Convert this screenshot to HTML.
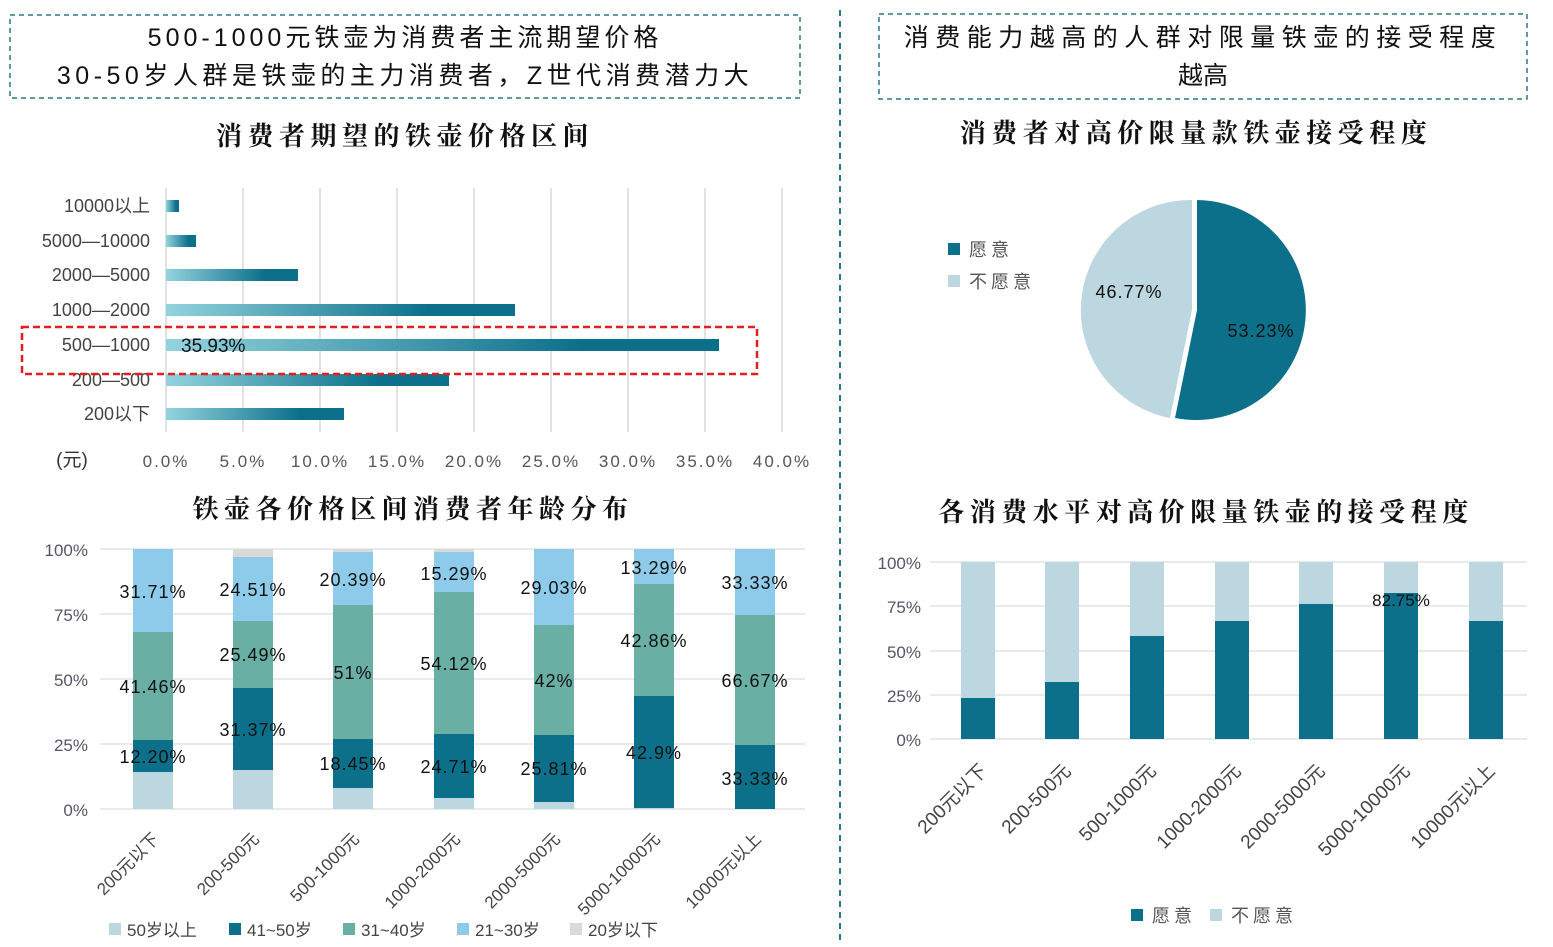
<!DOCTYPE html>
<html><head><meta charset="utf-8"><style>
body{margin:0;background:#fff;}
svg{display:block;}
.s{font-family:"Liberation Sans","Noto Sans CJK SC",sans-serif;}
.t{font-family:"Liberation Serif","Noto Serif CJK SC",serif;font-weight:bold;}
</style></head><body>
<svg width="1553" height="947" viewBox="0 0 1553 947" xmlns="http://www.w3.org/2000/svg" class="s">
<defs>
<linearGradient id="g" x1="0" x2="1" y1="0" y2="0">
<stop offset="0" stop-color="#93d3de"/><stop offset="0.75" stop-color="#0c708b"/><stop offset="1" stop-color="#0c708b"/>
</linearGradient>
</defs>
<rect x="10" y="15" width="790" height="83" fill="none" stroke="#2a7a88" stroke-width="1.5" stroke-dasharray="5,4"/>
<text x="405" y="46" font-size="25" text-anchor="middle" fill="#111" letter-spacing="4">500-1000元铁壶为消费者主流期望价格</text>
<text x="405" y="84" font-size="25" text-anchor="middle" fill="#111" letter-spacing="4.5">30-50岁人群是铁壶的主力消费者，Z世代消费潜力大</text>
<rect x="879" y="14" width="648" height="85" fill="none" stroke="#2a7a88" stroke-width="1.5" stroke-dasharray="5,4"/>
<text x="1203" y="46" font-size="25" text-anchor="middle" fill="#111" letter-spacing="6.5">消费能力越高的人群对限量铁壶的接受程度</text>
<text x="1203" y="84" font-size="25" text-anchor="middle" fill="#111">越高</text>
<line x1="840" y1="10" x2="840" y2="940" stroke="#2a7a88" stroke-width="2" stroke-dasharray="6,5"/>

<text x="405" y="145" class="t" font-size="26" text-anchor="middle" fill="#111" letter-spacing="5.5">消费者期望的铁壶价格区间</text>
<g stroke="#d9d9d9" stroke-width="1.5">
<line x1="166" y1="188" x2="166" y2="432"/><line x1="243" y1="188" x2="243" y2="432"/><line x1="320" y1="188" x2="320" y2="432"/><line x1="397" y1="188" x2="397" y2="432"/><line x1="474" y1="188" x2="474" y2="432"/><line x1="551" y1="188" x2="551" y2="432"/><line x1="628" y1="188" x2="628" y2="432"/><line x1="705" y1="188" x2="705" y2="432"/><line x1="782" y1="188" x2="782" y2="432"/>
</g>
<g fill="url(#g)">
<rect x="166" y="200" width="13" height="12"/>
<rect x="166" y="235" width="30" height="12"/>
<rect x="166" y="269" width="132" height="12"/>
<rect x="166" y="304" width="349" height="12"/>
<rect x="166" y="339" width="553" height="12"/>
<rect x="166" y="374" width="283" height="12"/>
<rect x="166" y="408" width="178" height="12"/>
</g>
<g font-size="18" fill="#444" text-anchor="end">
<text x="150" y="212">10000以上</text><text x="150" y="247">5000—10000</text><text x="150" y="281">2000—5000</text><text x="150" y="316">1000—2000</text><text x="150" y="351">500—1000</text><text x="150" y="386">200—500</text><text x="150" y="420">200以下</text>
</g>
<text x="181" y="352" font-size="19" fill="#111">35.93%</text>
<rect x="22" y="327" width="735" height="47" fill="none" stroke="#e02020" stroke-width="2.5" stroke-dasharray="7,4"/>
<g font-size="17" fill="#555" text-anchor="middle" letter-spacing="2">
<text x="166" y="467">0.0%</text><text x="243" y="467">5.0%</text><text x="320" y="467">10.0%</text><text x="397" y="467">15.0%</text><text x="474" y="467">20.0%</text><text x="551" y="467">25.0%</text><text x="628" y="467">30.0%</text><text x="705" y="467">35.0%</text><text x="782" y="467">40.0%</text>
</g>
<text x="72" y="466" font-size="19" fill="#333" text-anchor="middle">(元)</text>

<text x="413" y="518" class="t" font-size="26" text-anchor="middle" fill="#111" letter-spacing="5.5">铁壶各价格区间消费者年龄分布</text>
<g stroke="#e0e3e6" stroke-width="1.5">
<line x1="100" y1="549" x2="805" y2="549"/><line x1="100" y1="614" x2="805" y2="614"/><line x1="100" y1="679" x2="805" y2="679"/><line x1="100" y1="744" x2="805" y2="744"/><line x1="100" y1="809" x2="805" y2="809"/>
</g>
<g font-size="17" fill="#556" text-anchor="end">
<text x="88" y="556">100%</text><text x="88" y="621">75%</text><text x="88" y="686">50%</text><text x="88" y="751">25%</text><text x="88" y="816">0%</text>
</g>
<g>
<rect x="133" y="772" width="40" height="37" fill="#bdd7e0"/><rect x="133" y="740" width="40" height="32" fill="#0c708b"/><rect x="133" y="632" width="40" height="108" fill="#6aafa3"/><rect x="133" y="549" width="40" height="83" fill="#8ecae9"/>
<rect x="233" y="770" width="40" height="39" fill="#bdd7e0"/><rect x="233" y="688" width="40" height="82" fill="#0c708b"/><rect x="233" y="621" width="40" height="67" fill="#6aafa3"/><rect x="233" y="557" width="40" height="64" fill="#8ecae9"/><rect x="233" y="549" width="40" height="8" fill="#d9d9d9"/>
<rect x="333" y="788" width="40" height="21" fill="#bdd7e0"/><rect x="333" y="739" width="40" height="49" fill="#0c708b"/><rect x="333" y="605" width="40" height="134" fill="#6aafa3"/><rect x="333" y="552" width="40" height="53" fill="#8ecae9"/><rect x="333" y="549" width="40" height="3" fill="#d9d9d9"/>
<rect x="434" y="798" width="40" height="11" fill="#bdd7e0"/><rect x="434" y="734" width="40" height="64" fill="#0c708b"/><rect x="434" y="592" width="40" height="142" fill="#6aafa3"/><rect x="434" y="552" width="40" height="40" fill="#8ecae9"/><rect x="434" y="549" width="40" height="3" fill="#d9d9d9"/>
<rect x="534" y="802" width="40" height="7" fill="#bdd7e0"/><rect x="534" y="735" width="40" height="67" fill="#0c708b"/><rect x="534" y="625" width="40" height="110" fill="#6aafa3"/><rect x="534" y="549" width="40" height="76" fill="#8ecae9"/>
<rect x="634" y="808" width="40" height="1" fill="#bdd7e0"/><rect x="634" y="696" width="40" height="112" fill="#0c708b"/><rect x="634" y="584" width="40" height="112" fill="#6aafa3"/><rect x="634" y="549" width="40" height="35" fill="#8ecae9"/>
<rect x="735" y="745" width="40" height="64" fill="#0c708b"/><rect x="735" y="615" width="40" height="130" fill="#6aafa3"/><rect x="735" y="549" width="40" height="66" fill="#8ecae9"/>
</g>
<g font-size="18" fill="#111" text-anchor="middle" letter-spacing="1">
<text x="153" y="598">31.71%</text><text x="153" y="693">41.46%</text><text x="153" y="763">12.20%</text>
<text x="253" y="596">24.51%</text><text x="253" y="661">25.49%</text><text x="253" y="736">31.37%</text>
<text x="353" y="586">20.39%</text><text x="353" y="679">51%</text><text x="353" y="770">18.45%</text>
<text x="454" y="580">15.29%</text><text x="454" y="670">54.12%</text><text x="454" y="773">24.71%</text>
<text x="554" y="594">29.03%</text><text x="554" y="687">42%</text><text x="554" y="775">25.81%</text>
<text x="654" y="574">13.29%</text><text x="654" y="647">42.86%</text><text x="654" y="759">42.9%</text>
<text x="755" y="589">33.33%</text><text x="755" y="687">66.67%</text><text x="755" y="785">33.33%</text>
</g>
<g font-size="17" fill="#444" text-anchor="end">
<text transform="translate(160,840) rotate(-45)">200元以下</text>
<text transform="translate(260,840) rotate(-45)">200-500元</text>
<text transform="translate(360,840) rotate(-45)">500-1000元</text>
<text transform="translate(461,840) rotate(-45)">1000-2000元</text>
<text transform="translate(561,840) rotate(-45)">2000-5000元</text>
<text transform="translate(661,840) rotate(-45)">5000-10000元</text>
<text transform="translate(762,840) rotate(-45)">10000元以上</text>
</g>
<g font-size="17" fill="#444">
<rect x="109" y="923" width="12" height="12" fill="#bdd7e0"/><text x="127" y="936">50岁以上</text>
<rect x="229" y="923" width="12" height="12" fill="#0c708b"/><text x="247" y="936">41~50岁</text>
<rect x="343" y="923" width="12" height="12" fill="#6aafa3"/><text x="361" y="936">31~40岁</text>
<rect x="457" y="923" width="12" height="12" fill="#8ecae9"/><text x="475" y="936">21~30岁</text>
<rect x="570" y="923" width="12" height="12" fill="#d9d9d9"/><text x="588" y="936">20岁以下</text>
</g>

<text x="1196" y="142" class="t" font-size="26" text-anchor="middle" fill="#111" letter-spacing="5.5">消费者对高价限量款铁壶接受程度</text>
<rect x="948" y="243" width="12" height="12" fill="#0c708b"/><text x="969" y="256" font-size="18" fill="#555" letter-spacing="4">愿意</text>
<rect x="948" y="275" width="12" height="12" fill="#bdd7e0"/><text x="969" y="288" font-size="18" fill="#555" letter-spacing="4">不愿意</text>
<path d="M1197,310 L1197,200 A110,110 0 1 1 1175,418 Z" fill="#0c708b"/>
<path d="M1192,310 L1170,418 A110,110 0 0 1 1192,200 Z" fill="#bdd7e0"/>
<text x="1129" y="298" font-size="18" fill="#111" text-anchor="middle" letter-spacing="1">46.77%</text>
<text x="1261" y="337" font-size="18" fill="#111" text-anchor="middle" letter-spacing="1">53.23%</text>

<text x="1206" y="521" class="t" font-size="26" text-anchor="middle" fill="#111" letter-spacing="5.5">各消费水平对高价限量铁壶的接受程度</text>
<g stroke="#e0e3e6" stroke-width="1.5">
<line x1="930" y1="562" x2="1527" y2="562"/><line x1="930" y1="606" x2="1527" y2="606"/><line x1="930" y1="651" x2="1527" y2="651"/><line x1="930" y1="695" x2="1527" y2="695"/><line x1="930" y1="739" x2="1527" y2="739"/>
</g>
<g font-size="17" fill="#556" text-anchor="end">
<text x="921" y="569">100%</text><text x="921" y="613">75%</text><text x="921" y="658">50%</text><text x="921" y="702">25%</text><text x="921" y="746">0%</text>
</g>
<g>
<rect x="961" y="562" width="34" height="177" fill="#bdd7e0"/><rect x="961" y="698" width="34" height="41" fill="#0c708b"/>
<rect x="1045" y="562" width="34" height="177" fill="#bdd7e0"/><rect x="1045" y="682" width="34" height="57" fill="#0c708b"/>
<rect x="1130" y="562" width="34" height="177" fill="#bdd7e0"/><rect x="1130" y="636" width="34" height="103" fill="#0c708b"/>
<rect x="1215" y="562" width="34" height="177" fill="#bdd7e0"/><rect x="1215" y="621" width="34" height="118" fill="#0c708b"/>
<rect x="1299" y="562" width="34" height="177" fill="#bdd7e0"/><rect x="1299" y="604" width="34" height="135" fill="#0c708b"/>
<rect x="1384" y="562" width="34" height="177" fill="#bdd7e0"/><rect x="1384" y="593" width="34" height="146" fill="#0c708b"/>
<rect x="1469" y="562" width="34" height="177" fill="#bdd7e0"/><rect x="1469" y="621" width="34" height="118" fill="#0c708b"/>
</g>
<text x="1401" y="606" font-size="17" fill="#111" text-anchor="middle">82.75%</text>
<g font-size="19" fill="#444" text-anchor="end">
<text transform="translate(988,772) rotate(-45)">200元以下</text>
<text transform="translate(1072,772) rotate(-45)">200-500元</text>
<text transform="translate(1157,772) rotate(-45)">500-1000元</text>
<text transform="translate(1242,772) rotate(-45)">1000-2000元</text>
<text transform="translate(1326,772) rotate(-45)">2000-5000元</text>
<text transform="translate(1411,772) rotate(-45)">5000-10000元</text>
<text transform="translate(1496,772) rotate(-45)">10000元以上</text>
</g>
<rect x="1131" y="909" width="12" height="12" fill="#0c708b"/><text x="1152" y="922" font-size="18" fill="#555" letter-spacing="4">愿意</text>
<rect x="1210" y="909" width="12" height="12" fill="#bdd7e0"/><text x="1231" y="922" font-size="18" fill="#555" letter-spacing="4">不愿意</text>
</svg>
</body></html>
